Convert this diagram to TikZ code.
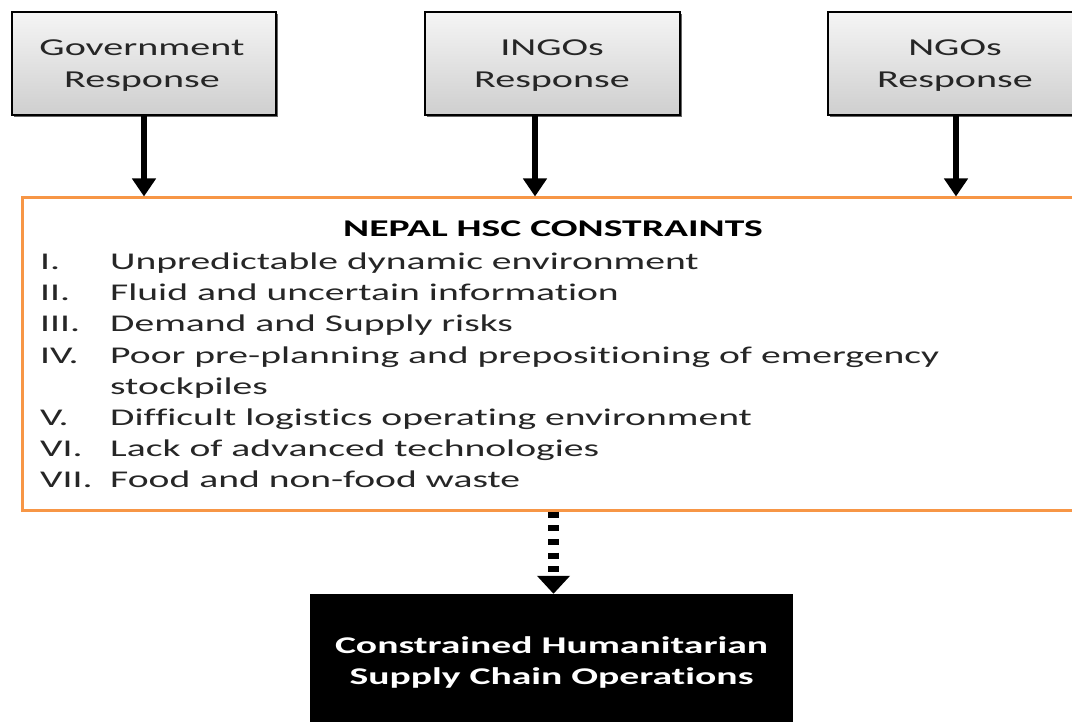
\documentclass[tikz,border=0pt]{standalone}
\usepackage{fontspec}
\setmainfont[FakeStretch=1.65, Ligatures=NoCommon]{Carlito}
\usetikzlibrary{arrows.meta,shadows}
\definecolor{hscorange}{HTML}{F79646}
\definecolor{txtgray}{HTML}{262626}
\begin{document}
\begin{tikzpicture}[x=1pt,y=-1pt,
  resp/.style={draw=black, line width=1.5pt, top color=gray!8, bottom color=gray!38,
    minimum height=103pt, align=center, inner sep=0pt,
    font=\fontsize{24.3}{32}\selectfont, text=txtgray,
    drop shadow={shadow xshift=2pt, shadow yshift=-2pt, opacity=0.6, fill=black}},
  resptext/.style={inner sep=0pt, align=center, text=txtgray, font=\fontsize{24.3}{32}\selectfont},
  arr/.style={line width=6pt, -{Triangle[width=23pt,length=18pt]}},
  dotarr/.style={line width=11pt, dash pattern=on 6pt off 7.7pt, -{Triangle[width=32pt,length=18pt]}},
  cbox/.style={draw=hscorange, line width=3pt, minimum width=1063pt, minimum height=312pt},
  outbox/.style={fill=black, minimum width=483pt, minimum height=136pt, text=white,
    align=center, font=\bfseries\fontsize{24}{31}\selectfont},
  item/.style={anchor=base west, inner sep=0pt, text=txtgray, font=\fontsize{24}{31}\selectfont},
  head/.style={anchor=base, inner sep=0pt, text=black, font=\bfseries\fontsize{24}{31}\selectfont}
]
\useasboundingbox (0,0) rectangle (1072,722);
\fill[white] (0,0) rectangle (1072,722);

\node[resp, minimum width=264pt] (gov) at (144,63.5) {};
\node[resptext] (govt) at (142,65.5) {Government\\Response};
\node[resp, minimum width=255pt] (ingo) at (552.5,63.5) {};
\node[resptext] (ingot) at (552,65.5) {INGOs\\Response};
\node[resp, minimum width=256pt] (ngo) at (956,63.5) {};
\node[resptext] (ngot) at (955,65.5) {NGOs\\Response};

\node[cbox] (cons) at (553.5,354) {};
\node[outbox] (out) at (551.5,662) {Constrained Humanitarian\\Supply Chain Operations};

\draw[arr] (gov.south) -- (gov.south |- cons.north);
\draw[arr] ([xshift=-17.5pt]ingo.south) -- ([xshift=-17.5pt]ingo.south |- cons.north);
\draw[arr] (ngo.south) -- (ngo.south |- cons.north);
\draw[dotarr] (cons.south) -- (cons.south |- out.north);

\node[head] (h) at (553,237) {NEPAL HSC CONSTRAINTS};
\node[item] (n1) at (40,270) {I.};   \node[item] (t1) at (110,270) {Unpredictable dynamic environment};
\node[item] (n2) at (40,301) {II.};  \node[item] (t2) at (110,301) {Fluid and uncertain information};
\node[item] (n3) at (40,332) {III.}; \node[item] (t3) at (110,332) {Demand and Supply risks};
\node[item] (n4) at (40,363) {IV.};  \node[item] (t4) at (110,363) {Poor pre-planning and prepositioning of emergency};
\node[item] (t4b) at (110,394) {stockpiles};
\node[item] (n5) at (40,425) {V.};   \node[item] (t5) at (110,425) {Difficult logistics operating environment};
\node[item] (n6) at (40,456) {VI.};  \node[item] (t6) at (110,456) {Lack of advanced technologies};
\node[item] (n7) at (40,487) {VII.}; \node[item] (t7) at (110,487) {Food and non-food waste};
\end{tikzpicture}
\end{document}
